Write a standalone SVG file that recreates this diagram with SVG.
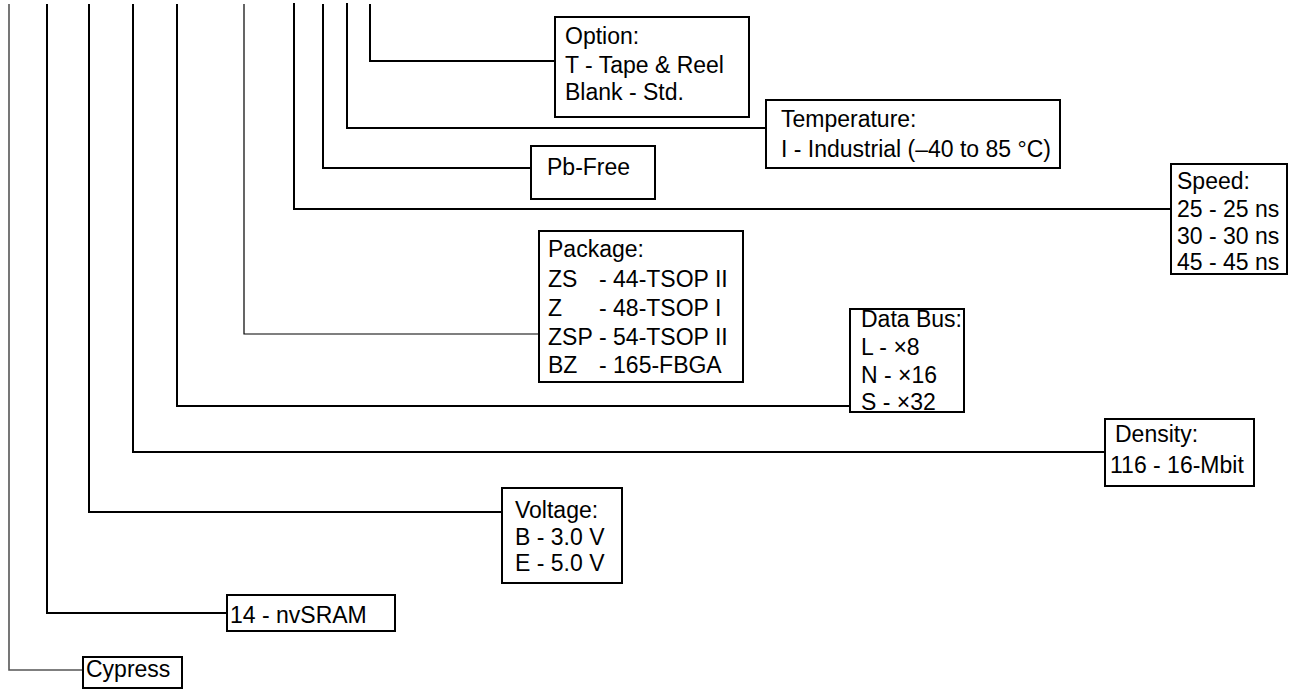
<svg xmlns="http://www.w3.org/2000/svg" width="1299" height="689" viewBox="0 0 1299 689">
<style>
.bg{fill:#fff}
.box{fill:#fff;stroke:#000;stroke-width:2}
.ln{fill:none;stroke:#000;stroke-width:2}
.thin{fill:none;stroke:#000;stroke-width:1.2}
.grey{fill:none;stroke:#555;stroke-width:1.6}
text{font-family:"Liberation Sans",Arial,sans-serif;font-size:23px;fill:#000}
</style>
<rect class="bg" x="0" y="0" width="1299" height="689"/>
<g id="connectors">
<polyline class="grey" points="9,4 9,670 83,670"/>
<polyline class="ln" points="47,4 47,613 227,613"/>
<polyline class="ln" points="89,4 89,512 502,512"/>
<polyline class="ln" points="133,4 133,452 1105,452"/>
<polyline class="ln" points="177,4 177,406 850,406"/>
<polyline class="thin" points="244,4 244,334 539,334"/>
<polyline class="ln" points="294,3 294,209 1171,209"/>
<polyline class="ln" points="323,4 323,168 531,168"/>
<polyline class="ln" points="347,3 347,128 766,128"/>
<polyline class="ln" points="370,4 370,61 555,61"/>
</g>
<g id="option">
<rect class="box" x="555" y="17" width="194" height="100"/>
<text x="565" y="43.5">Option:</text>
<text x="565" y="72.5">T - Tape &amp; Reel</text>
<text x="565" y="100">Blank - Std.</text>
</g>
<g id="temperature">
<rect class="box" x="766" y="100" width="294" height="68"/>
<text x="781" y="127">Temperature:</text>
<text x="781" y="157">I - Industrial (–40 to 85 °C)</text>
</g>
<g id="pbfree">
<rect class="box" x="531" y="146" width="124" height="53"/>
<text x="547" y="175">Pb-Free</text>
</g>
<g id="speed">
<rect class="box" x="1171" y="164" width="116" height="110"/>
<text x="1177" y="189">Speed:</text>
<text x="1177" y="216.5">25 - 25 ns</text>
<text x="1177" y="243.5">30 - 30 ns</text>
<text x="1177" y="270">45 - 45 ns</text>
</g>
<g id="package">
<rect class="box" x="539" y="231" width="204" height="151"/>
<text x="548" y="257">Package:</text>
<text x="548" y="286.5">ZS</text><text x="599" y="286.5">- 44-TSOP II</text>
<text x="548" y="316">Z</text><text x="599" y="316">- 48-TSOP I</text>
<text x="548" y="345">ZSP</text><text x="599" y="345">- 54-TSOP II</text>
<text x="548" y="373">BZ</text><text x="599" y="373">- 165-FBGA</text>
</g>
<g id="databus">
<rect class="box" x="850" y="309" width="114" height="103"/>
<text x="861" y="327">Data Bus:</text>
<text x="861" y="355">L - ×8</text>
<text x="861" y="383">N - ×16</text>
<text x="861" y="410">S - ×32</text>
</g>
<g id="density">
<rect class="box" x="1105" y="419" width="149" height="67"/>
<text x="1115" y="442">Density:</text>
<text x="1110" y="473">116 - 16-Mbit</text>
</g>
<g id="voltage">
<rect class="box" x="502" y="488" width="120" height="95"/>
<text x="515" y="518">Voltage:</text>
<text x="515" y="545">B - 3.0 V</text>
<text x="515" y="571">E - 5.0 V</text>
</g>
<g id="nvsram">
<rect class="box" x="227" y="595" width="168" height="36"/>
<text x="230" y="623">14 - nvSRAM</text>
</g>
<g id="cypress">
<rect class="box" x="83" y="657" width="99" height="31"/>
<text x="86" y="677">Cypress</text>
</g>
</svg>
